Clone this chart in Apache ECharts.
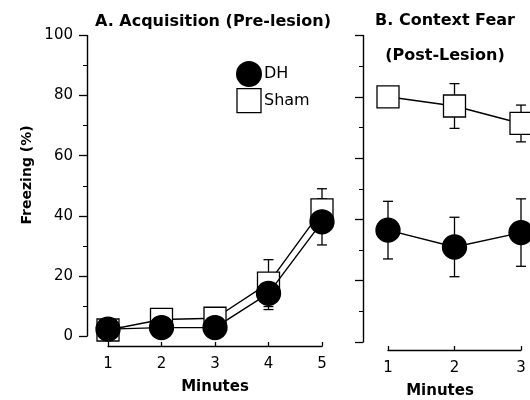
<!DOCTYPE html>
<html>
<head>
<meta charset="utf-8">
<script src="https://cdn.jsdelivr.net/npm/echarts@6/dist/echarts.min.js"></script>
<style>
  html, body { margin: 0; padding: 0; background: #fff; }
  #chart { width: 530px; height: 400px; }
</style>
</head>
<body>
<div id="chart"></div>
<script>
// 数据
const minutesA = [1, 2, 3, 4, 5]
const dhA = [2.3, 2.8, 2.8, 14.2, 38]
const dhAErr = [1, 1, 1, 5.4, 7.7]
const shamA = [2, 5.5, 5.9, 17.6, 42]
const shamAErr = [1, 1, 1, 7.8, 7]

const minutesB = [1, 2, 3]
const dhB = [36.5, 31, 35.7]
const dhBErr = [9.4, 9.7, 11]
const shamB = [80, 77, 71.3]
const shamBErr = [2, 7.3, 6]

const yTicks = [0, 20, 40, 60, 80, 100]

const font = 'DejaVu Sans, Arial, sans-serif'

const pairs = (xs, ys) => xs.map((x, i) => [x, ys[i]])
const errData = (xs, ys, es) => xs.map((x, i) => [x, ys[i] - es[i], ys[i] + es[i]])

// 误差线
const errorSeries = (idx, data) => ({
  type: 'custom',
  xAxisIndex: idx,
  yAxisIndex: idx,
  z: 1,
  silent: true,
  data: data,
  renderItem: function (params, api) {
    const lo = api.coord([api.value(0), api.value(1)])
    const hi = api.coord([api.value(0), api.value(2)])
    const cap = 5
    const style = { stroke: '#000', lineWidth: 1.3 }
    return {
      type: 'group',
      children: [
        { type: 'line', shape: { x1: lo[0], y1: lo[1], x2: hi[0], y2: hi[1] }, style },
        { type: 'line', shape: { x1: lo[0] - cap, y1: lo[1], x2: lo[0] + cap, y2: lo[1] }, style },
        { type: 'line', shape: { x1: hi[0] - cap, y1: hi[1], x2: hi[0] + cap, y2: hi[1] }, style }
      ]
    }
  }
})

const lineSeries = (name, idx, data, symbol, size, fill, z) => ({
  name: name,
  type: 'line',
  xAxisIndex: idx,
  yAxisIndex: idx,
  data: data,
  symbol: symbol,
  symbolSize: size,
  showAllSymbol: true,
  z: z,
  lineStyle: { color: '#000', width: 1.4 },
  itemStyle: { color: fill, borderColor: '#000', borderWidth: 1.3, opacity: 1 },
  emphasis: { disabled: true },
  animation: false
})

const yAxisBase = (idx, offset, showLabel) => ({
  type: 'value',
  gridIndex: idx,
  min: 0,
  max: 100,
  interval: 20,
  offset: offset,
  splitLine: { show: false },
  axisLine: { show: true, onZero: false, lineStyle: { color: '#000', width: 1.4 } },
  axisTick: { show: true, length: 8, lineStyle: { color: '#000', width: 1.3 } },
  minorTick: { show: true, splitNumber: 2, length: 4, lineStyle: { color: '#000', width: 1 } },
  axisLabel: {
    show: showLabel,
    color: '#000',
    fontSize: 15,
    fontFamily: font,
    margin: 14,
    formatter: v => (yTicks.includes(v) ? String(v) : '')
  }
})

const xAxisBase = (idx, max, offset, name) => ({
  type: 'value',
  gridIndex: idx,
  min: 1,
  max: max,
  interval: 1,
  offset: offset,
  name: name,
  nameLocation: 'middle',
  nameGap: 34,
  nameTextStyle: { color: '#000', fontSize: 15, fontWeight: 'bold', fontFamily: font },
  splitLine: { show: false },
  axisLine: { show: true, onZero: false, lineStyle: { color: '#000', width: 1.4 } },
  axisTick: { show: true, inside: true, length: 4, lineStyle: { color: '#000', width: 1.3 } },
  axisLabel: { color: '#000', fontSize: 15, fontFamily: font, margin: 11 }
})

const chart = echarts.init(document.getElementById('chart'), null, { renderer: 'canvas' })

const titleStyle = { color: '#000', fontSize: 16, fontWeight: 'bold', fontFamily: font }

const option = {
  backgroundColor: '#fff',
  animation: false,
  title: [
    { text: 'A. Acquisition (Pre-lesion)', left: 208, top: 9, textAlign: 'center', textStyle: titleStyle },
    { text: 'B. Context Fear', left: 440, top: 8, textAlign: 'center', textStyle: titleStyle },
    { text: '(Post-Lesion)', left: 440, top: 43, textAlign: 'center', textStyle: titleStyle }
  ],
  legend: {
    orient: 'vertical',
    left: 231,
    top: 56,
    itemWidth: 24,
    itemHeight: 24,
    itemGap: 1,
    selectedMode: false,
    textStyle: { color: '#000', fontSize: 16, fontFamily: font, padding: [0, 0, 0, -2] },
    data: [
      { name: 'DH', icon: 'circle' },
      { name: 'Sham', icon: 'rect', itemStyle: { color: '#fff', borderColor: '#000', borderWidth: 1.3 } }
    ]
  },
  graphic: [
    {
      type: 'text',
      x: 27,
      y: 175,
      rotation: Math.PI / 2,
      style: {
        text: 'Freezing (%)',
        fill: '#000',
        font: 'bold 14px ' + font,
        textAlign: 'center',
        textVerticalAlign: 'middle'
      }
    },
    {
      type: 'text',
      x: 440,
      y: 391,
      style: {
        text: 'Minutes',
        fill: '#000',
        font: 'bold 15px ' + font,
        textAlign: 'center',
        textVerticalAlign: 'middle'
      }
    }
  ],
  grid: [
    { left: 108, top: 35.5, width: 214, height: 306.5 },
    { left: 388, top: 35.5, width: 133, height: 306.5 }
  ],
  xAxis: [xAxisBase(0, 5, 10, 'Minutes'), xAxisBase(1, 3, 8, '')],
  yAxis: [yAxisBase(0, 21, true), yAxisBase(1, 25, false)],
  series: [
    errorSeries(0, errData(minutesA, shamA, shamAErr)),
    errorSeries(0, errData(minutesA, dhA, dhAErr)),
    lineSeries('Sham', 0, pairs(minutesA, shamA), 'rect', 22, '#fff', 2),
    lineSeries('DH', 0, pairs(minutesA, dhA), 'circle', 24, '#000', 3),
    errorSeries(1, errData(minutesB, shamB, shamBErr)),
    errorSeries(1, errData(minutesB, dhB, dhBErr)),
    lineSeries('Sham', 1, pairs(minutesB, shamB), 'rect', 22, '#fff', 2),
    lineSeries('DH', 1, pairs(minutesB, dhB), 'circle', 24, '#000', 3)
  ]
}

chart.setOption(option)
</script>
</body>
</html>
